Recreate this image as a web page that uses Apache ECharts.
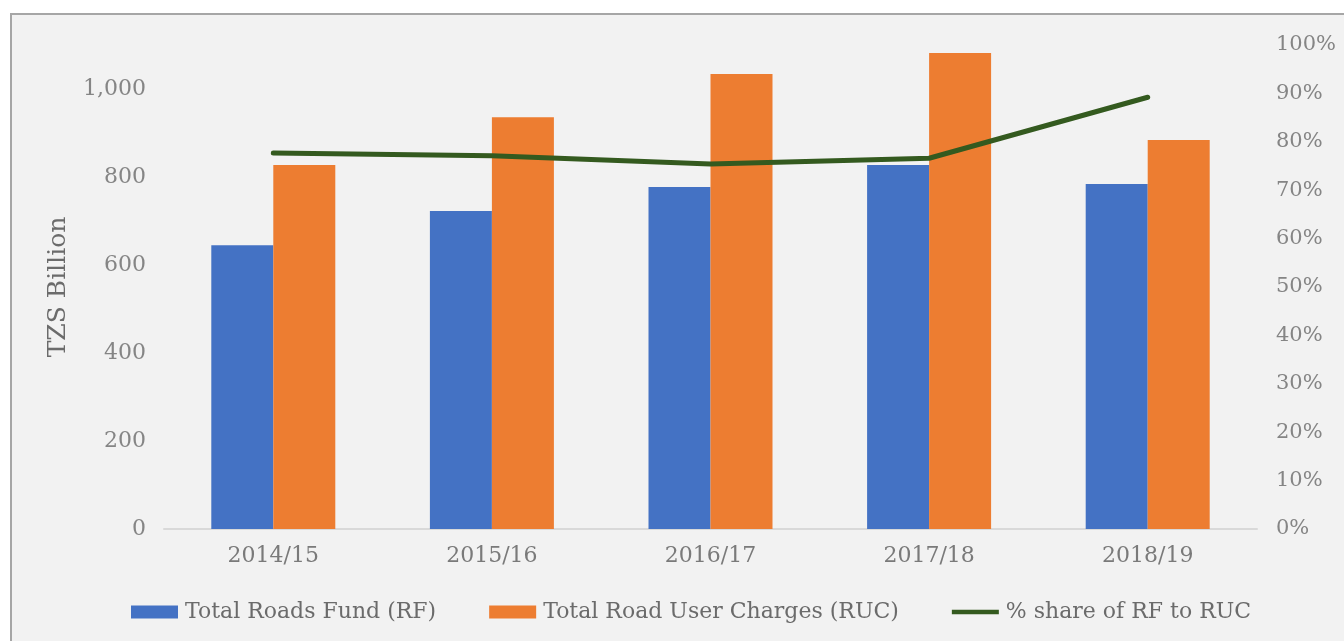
<!DOCTYPE html>
<html>
<head>
<meta charset="utf-8">
<script src="https://cdn.jsdelivr.net/npm/echarts@6/dist/echarts.min.js"></script>
<style>
  html, body { margin: 0; padding: 0; background: #ffffff; width: 1344px; height: 641px; overflow: hidden; }
  #frame { position: absolute; left: 10px; top: 13px; width: 1340px; height: 640px;
           border-left: 2px solid #a6a6a6; border-top: 2px solid #a6a6a6; background: #f2f2f2; }
  #chart { position: absolute; left: 0; top: 0; width: 1344px; height: 641px; }
</style>
</head>
<body>
<div id="frame"></div>
<div id="chart"></div>
<script>
const categories = ['2014/15', '2015/16', '2016/17', '2017/18', '2018/19'];
const roadsFund = [645, 723, 777, 827, 784];
const roadUserCharges = [827, 936, 1034, 1082, 884];
const shareRFtoRUC = [0.777, 0.771, 0.754, 0.766, 0.892];
const seriesNames = ['Total Roads Fund (RF)', 'Total Road User Charges (RUC)', '% share of RF to RUC'];

const FONT = 'DejaVu Serif';
const chart = echarts.init(document.getElementById('chart'), null, { renderer: 'canvas' });

chart.setOption({
  backgroundColor: 'transparent',
  animation: false,
  textStyle: { fontFamily: FONT },
  grid: { left: 164, right: 87, top: 45, bottom: 112, containLabel: false },
  legend: {
    left: 126, top: 596,
    itemWidth: 47, itemHeight: 13, itemGap: 53,
    symbolKeepAspect: true,
    textStyle: { fontFamily: FONT, fontSize: 22, color: '#6b6b6b', padding: [0, 0, 0, 2] },
    data: [
      { name: seriesNames[0], icon: 'rect' },
      { name: seriesNames[1], icon: 'rect' },
      { name: seriesNames[2], icon: 'path://M0,0 L54,0 L54,5 L0,5 Z' }
    ]
  },
  xAxis: {
    type: 'category',
    data: categories,
    axisLine: { show: true, lineStyle: { color: '#d9d9d9', width: 2 } },
    axisTick: { show: false },
    axisLabel: { fontFamily: FONT, fontSize: 22, color: '#7a7a7a', margin: 16 }
  },
  yAxis: [
    {
      type: 'value', min: 0, max: 1100, interval: 200,
      name: 'TZS Billion', nameLocation: 'middle', nameRotate: 90, nameGap: 93,
      nameTextStyle: { fontFamily: FONT, fontSize: 25, color: '#6b6b6b' },
      axisLine: { show: false }, axisTick: { show: false },
      splitLine: { show: false },
      axisLabel: {
        fontFamily: FONT, fontSize: 22, color: '#858585', margin: 18, showMaxLabel: false,
        formatter: v => v.toLocaleString('en-US')
      }
    },
    {
      type: 'value', min: 0, max: 1, interval: 0.1, position: 'right',
      axisLine: { show: false }, axisTick: { show: false },
      splitLine: { show: false },
      axisLabel: {
        fontFamily: FONT, fontSize: 21, color: '#858585', margin: 19,
        formatter: v => Math.round(v * 100) + '%'
      }
    }
  ],
  series: [
    {
      name: seriesNames[0], type: 'bar', data: roadsFund, yAxisIndex: 0,
      barWidth: 62, barGap: '0%',
      itemStyle: { color: '#4472c4' }
    },
    {
      name: seriesNames[1], type: 'bar', data: roadUserCharges, yAxisIndex: 0,
      barWidth: 62, barGap: '0%',
      itemStyle: { color: '#ed7d31' }
    },
    {
      name: seriesNames[2], type: 'line', data: shareRFtoRUC, yAxisIndex: 1,
      symbol: 'none', smooth: false,
      lineStyle: { color: '#345a1f', width: 5, cap: 'round' },
      itemStyle: { color: '#345a1f' },
      z: 5
    }
  ]
});
</script>
</body>
</html>
